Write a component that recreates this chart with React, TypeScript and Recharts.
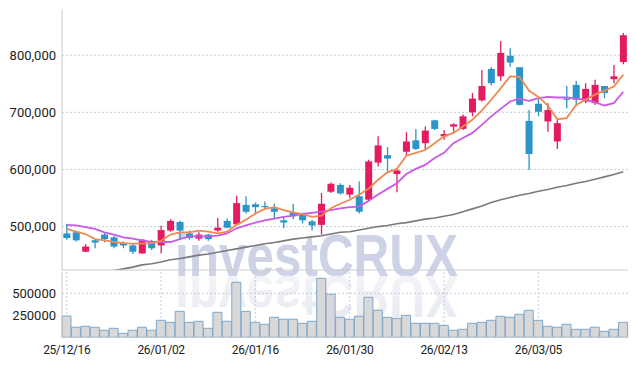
import { ComposedChart, BarChart, Bar, Line, XAxis, YAxis, CartesianGrid } from 'recharts';

const dates = [
  '25/12/16', '25/12/17', '25/12/18', '25/12/19', '25/12/22', '25/12/23', '25/12/24', '25/12/26', '25/12/29', '25/12/30',
  '26/01/02', '26/01/05', '26/01/06', '26/01/07', '26/01/08', '26/01/09', '26/01/12', '26/01/13', '26/01/14', '26/01/15',
  '26/01/16', '26/01/19', '26/01/20', '26/01/21', '26/01/22', '26/01/23', '26/01/26', '26/01/27', '26/01/28', '26/01/29',
  '26/01/30', '26/02/02', '26/02/03', '26/02/04', '26/02/05', '26/02/06', '26/02/09', '26/02/10', '26/02/11', '26/02/12',
  '26/02/13', '26/02/19', '26/02/20', '26/02/23', '26/02/24', '26/02/25', '26/02/26', '26/02/27', '26/03/03', '26/03/04',
  '26/03/05', '26/03/06', '26/03/09', '26/03/10', '26/03/11', '26/03/12', '26/03/13', '26/03/16', '26/03/17', '26/03/18',
];

// prices in thousands of won
const opens = [
  488, 490, 456, 476, 486, 481, 471, 467, 453, 474,
  467, 493, 508, 488, 479, 486, 493, 510, 504, 538,
  539, 536, 532, 511, 525, 521, 509, 503, 561, 573,
  556, 553, 547, 612, 625, 592, 631, 651, 646, 686,
  658, 675, 671, 700, 721, 776, 763, 799, 779, 685,
  715, 684, 649, 724, 748, 719, 716, 746, 758, 788,
];
const highs = [
  505, 491, 469, 478, 490, 484, 474, 471, 478, 477,
  502, 513, 510, 493, 490, 487, 515, 514, 554, 553,
  542, 544, 540, 517, 540, 524, 512, 559, 577, 576,
  573, 579, 617, 658, 639, 601, 665, 671, 675, 687,
  669, 681, 696, 734, 774, 779, 825, 812, 779, 704,
  725, 716, 687, 746, 755, 751, 757, 746, 783, 839,
];
const lows = [
  477, 474, 455, 462, 472, 462, 462, 452, 452, 459,
  453, 491, 477, 477, 475, 475, 491, 497, 502, 523,
  521, 529, 515, 497, 513, 506, 493, 486, 559, 556,
  550, 523, 545, 605, 596, 560, 623, 634, 634, 669,
  652, 666, 669, 693, 719, 747, 755, 780, 712, 599,
  693, 666, 636, 707, 710, 716, 713, 725, 751, 784,
];
const closes = [
  480, 476, 465, 472, 478, 465, 467, 456, 477, 462,
  494, 510, 493, 480, 486, 478, 498, 498, 541, 526,
  534, 534, 526, 507, 518, 511, 502, 540, 575, 558,
  568, 526, 614, 642, 619, 598, 649, 636, 668, 671,
  662, 679, 693, 724, 746, 751, 804, 787, 713, 627,
  701, 704, 681, 722, 722, 741, 748, 734, 763, 835,
];
const ma5 = [
  496, 491, 487, 478, 476, 473, 471, 470, 470, 471,
  475, 486, 490, 490, 493, 491, 488, 491, 503, 512,
  523, 531, 534, 529, 525, 522, 517, 519, 532, 540,
  547, 556, 566, 582, 595, 601, 624, 629, 634, 646,
  658, 664, 675, 687, 703, 722, 742, 763, 762, 738,
  727, 712, 688, 690, 713, 722, 731, 738, 745, 766,
];
const ma20 = [
  503, 502, 499, 496, 490, 486, 481, 479, 476, 473,
  473, 473, 478, 483, 483, 483, 484, 488, 497, 502,
  507, 511, 514, 517, 519, 522, 524, 526, 529, 532,
  534, 535, 545, 556, 566, 576, 592, 601, 608, 620,
  629, 646, 655, 664, 678, 693, 706, 719, 724, 720,
  725, 727, 726, 726, 724, 722, 718, 712, 716, 736,
];
const ma60 = [
  408, 411, 414, 417, 420, 423, 426, 429, 433, 435,
  438, 442, 444, 447, 450, 452, 455, 458, 461, 464,
  467, 470, 472, 475, 478, 480, 482, 484, 487, 490,
  491, 494, 497, 500, 502, 505, 507, 510, 513, 515,
  518, 521, 526, 531, 536, 542, 547, 551, 555, 558,
  562, 565, 569, 572, 576, 579, 583, 587, 591, 596,
];
// volume in thousands of shares
const volumes = [
  242, 114, 125, 114, 80, 102, 45, 80, 114, 80,
  193, 170, 295, 170, 182, 102, 284, 182, 625, 295,
  170, 148, 227, 205, 205, 159, 182, 670, 489, 227,
  205, 239, 455, 307, 227, 216, 250, 159, 159, 159,
  136, 80, 91, 159, 170, 193, 239, 227, 261, 307,
  193, 125, 114, 148, 91, 91, 114, 68, 91, 170,
];

const priceDomain = [424000, 880000];
const priceTicks = [500000, 600000, 700000, 800000];
const volumeDomain = [0, 742000];
const volumeTicks = [250000, 500000];

const data = dates.map((date, i) => ({
  date,
  open: opens[i] * 1000,
  high: highs[i] * 1000,
  low: lows[i] * 1000,
  close: closes[i] * 1000,
  ma5: ma5[i] * 1000,
  ma20: ma20[i] * 1000,
  ma60: ma60[i] * 1000,
  volume: volumes[i] * 1000,
}));

const RED = '#e31c5f';
const BLUE = '#2b94c9';
const GRID = '#c6cbdc';
const AXIS = '#cccccc';
const FONT = 'Roboto, sans-serif';

const Candle = (props: any) => {
  const { x, y, width, height, payload } = props;
  if (x == null || y == null) return null;
  const { open, close, high, low } = payload;
  const color = close >= open ? RED : BLUE;
  const top = Math.min(y, y + height);
  const h = Math.abs(height);
  const ratio = h / (high - low || 1);
  const bodyTop = top + (high - Math.max(open, close)) * ratio;
  const bodyH = Math.max(Math.abs(open - close) * ratio, 1.2);
  const cx = x + width / 2;
  return (
    <g>
      <line x1={cx} x2={cx} y1={top} y2={top + h} stroke={color} strokeWidth={1.3} />
      <rect x={x} y={bodyTop} width={width} height={bodyH} fill={color} />
    </g>
  );
};

const tickStyle = { fill: '#222', fontSize: 13, fontFamily: FONT };

export default function App() {
  return (
    <div style={{ position: 'absolute', left: 0, top: 0, width: 636, height: 366, background: '#fff' }}>
      <svg width={636} height={366} style={{ position: 'absolute', left: 0, top: 0 }}>
        <defs>
          <linearGradient id="refl" x1="0" y1="0" x2="0" y2="1">
            <stop offset="0%" stopColor="#e3e6ef" stopOpacity={1} />
            <stop offset="100%" stopColor="#f0f1f6" stopOpacity={0.6} />
          </linearGradient>
        </defs>
        <text
          x={175}
          y={276}
          textLength={283}
          lengthAdjust="spacingAndGlyphs"
          fontFamily="'Liberation Sans', Arial, sans-serif"
          fontWeight="bold"
          fontSize={60}
          fill="#cdd2e6"
        >
          investCRUX
        </text>
        <text
          x={175}
          y={276}
          transform="translate(0,552) scale(1,-1)"
          textLength={283}
          lengthAdjust="spacingAndGlyphs"
          fontFamily="'Liberation Sans', Arial, sans-serif"
          fontWeight="bold"
          fontSize={60}
          fill="url(#refl)"
        >
          investCRUX
        </text>
      </svg>

      <div style={{ position: 'absolute', left: 0, top: 0 }}>
        <ComposedChart width={636} height={272} data={data} margin={{ top: 9.5, right: 8, left: 0, bottom: 1 }} barCategoryGap="14%">
          <CartesianGrid stroke={GRID} strokeDasharray="2 2" syncWithTicks />
          <XAxis dataKey="date" height={1} interval={9} tick={false} tickLine={false} stroke={AXIS} />
          <YAxis
            domain={priceDomain}
            allowDataOverflow
            ticks={priceTicks}
            tickFormatter={(v: number) => v.toLocaleString('en-US')}
            width={62}
            tickLine={false}
            tickSize={4}
            tickMargin={2}
            stroke={AXIS}
            tick={tickStyle}
          />
          <YAxis
            yAxisId="right"
            orientation="right"
            domain={priceDomain}
            allowDataOverflow
            ticks={priceTicks}
            width={0}
            tick={false}
            tickLine={false}
            stroke={AXIS}
          />
          <Bar dataKey={(d: any) => [d.low, d.high]} shape={<Candle />} isAnimationActive={false} />
          <Line type="linear" dataKey="ma60" stroke="#7a7a7a" strokeWidth={1.6} dot={false} isAnimationActive={false} />
          <Line type="linear" dataKey="ma20" stroke="#c95ae8" strokeWidth={1.8} dot={false} isAnimationActive={false} />
          <Line type="linear" dataKey="ma5" stroke="#ee8a52" strokeWidth={1.8} dot={false} isAnimationActive={false} />
        </ComposedChart>
      </div>

      <div style={{ position: 'absolute', left: 0, top: 270 }}>
        <BarChart width={636} height={96} data={data} margin={{ top: 2, right: 8, left: 0, bottom: 0 }} barCategoryGap={0}>
          <CartesianGrid stroke={GRID} strokeDasharray="2 2" syncWithTicks />
          <XAxis
            dataKey="date"
            height={28.7}
            interval={9}
            tickLine={false}
            stroke={AXIS}
            tick={{ fill: '#222', fontSize: 12, fontFamily: FONT, letterSpacing: -0.4 }}
          />
          <YAxis
            domain={volumeDomain}
            ticks={volumeTicks}
            width={62}
            tickLine={false}
            tickSize={4}
            tickMargin={2}
            stroke={AXIS}
            tick={tickStyle}
          />
          <YAxis
            yAxisId="right"
            orientation="right"
            domain={volumeDomain}
            ticks={volumeTicks}
            width={0}
            tick={false}
            tickLine={false}
            stroke={AXIS}
          />
          <Bar dataKey="volume" fill="#d8d8d8" stroke="#7ea7cb" strokeWidth={1} isAnimationActive={false} />
        </BarChart>
      </div>
    </div>
  );
}
